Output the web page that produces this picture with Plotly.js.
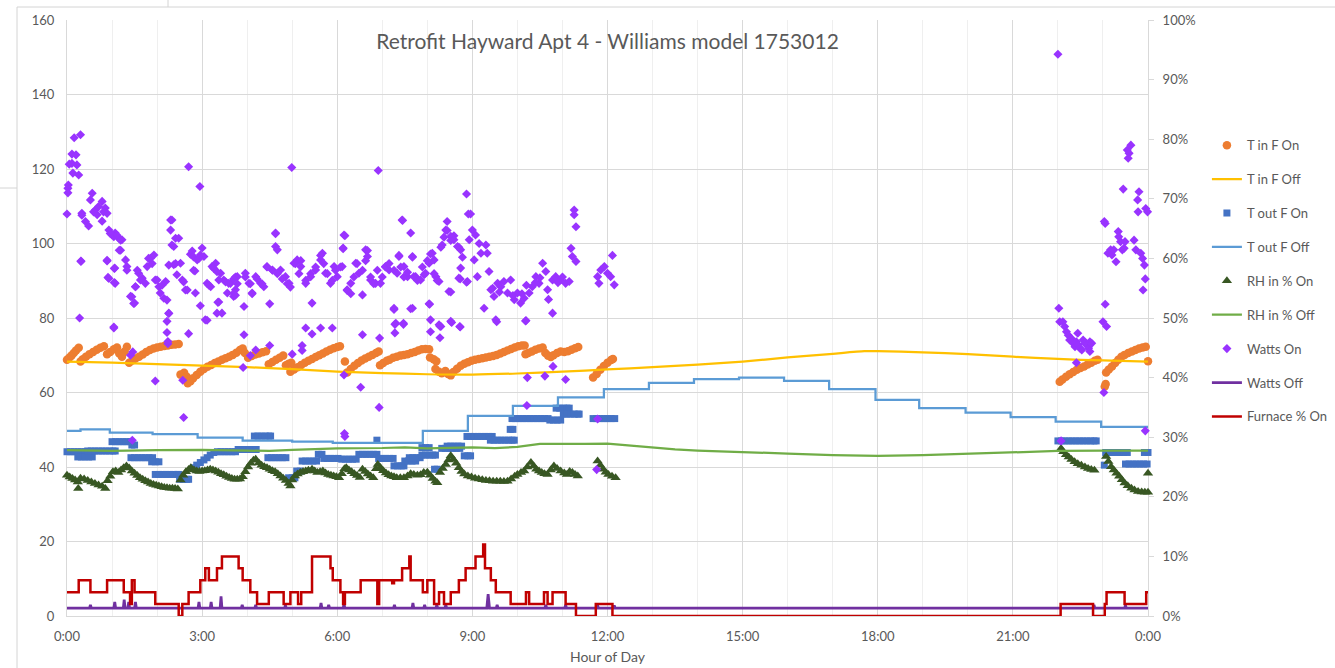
<!DOCTYPE html>
<html>
<head>
<meta charset="utf-8">
<script src="https://cdn.plot.ly/plotly-3.0.1.min.js"></script>
<style>html,body{margin:0;padding:0;background:#fff;}#chart{width:1335px;height:668px;}</style>
</head>
<body>
<div id="chart"></div>
<script>
// ---------- DATA (hour of day, value) ----------
const tickVals = [0,3,6,9,12,15,18,21,24];
const tickText = ["0:00","3:00","6:00","9:00","12:00","15:00","18:00","21:00","0:00"];
const seriesNames = ["T in F On","T in F Off","T out F On","T out F Off","RH in % On","RH in % Off","Watts On","Watts Off","Furnace % On"];

const tInOn = [[0,68.8],[0.05,69.3],[0.1,69.9],[0.15,70.6],[0.2,71.3],[0.26,72.0],
[0.3,68.3],[0.35,68.9],[0.42,69.6],[0.5,70.3],[0.58,70.9],[0.66,71.5],[0.74,72.0],[0.82,72.4],
[0.89,70.3],[0.96,70.9],[1.04,71.6],[1.11,72.1],[1.16,70.5],[1.22,69.6],[1.28,71.0],[1.33,72.3],
[1.38,68.0],[1.45,68.6],[1.52,69.1],[1.6,69.6],[1.68,70.2],[1.76,70.9],[1.84,71.4],[1.92,71.8],[2.0,72.1],[2.08,72.3],[2.16,72.5],[2.24,72.6],[2.32,72.8],[2.4,72.9],[2.48,73.0],
[2.52,64.8],[2.6,65.3],[2.66,64.2],
[2.68,62.5],[2.74,63.0],[2.8,63.8],[2.88,64.7],[2.96,65.6],[3.04,66.3],[3.12,66.9],[3.2,67.4],[3.28,67.9],[3.36,68.3],[3.44,68.8],[3.52,69.2],[3.6,69.6],[3.68,70.1],[3.76,70.7],[3.84,71.4],[3.9,71.8],
[3.95,70.6],[4.02,69.3],[4.1,69.8],[4.18,70.2],[4.26,70.5],[4.34,70.8],[4.42,71.1],
[4.48,67.6],[4.56,68.2],[4.64,68.8],[4.72,69.3],[4.8,69.9],[4.86,67.3],[4.92,67.7],[4.98,68.0],
[4.96,65.6],[5.04,66.2],[5.12,66.8],[5.2,67.4],[5.28,68.0],[5.36,68.5],[5.44,69.0],[5.52,69.5],[5.6,70.0],[5.68,70.5],[5.76,71.0],[5.84,71.5],[5.92,71.9],[6.0,72.2],[6.06,72.4],
[6.17,68.3],
[6.22,65.4],[6.3,66.3],[6.38,67.2],[6.46,67.9],[6.54,68.6],[6.62,69.1],[6.7,69.6],[6.78,70.1],[6.86,70.6],[6.92,71.0],
[6.95,67.3],[7.02,67.9],[7.1,68.5],
[7.16,68.8],[7.24,69.3],[7.32,69.6],[7.4,69.9],[7.48,70.1],[7.56,70.3],[7.64,70.6],[7.72,70.9],[7.8,71.3],[7.88,71.6],[7.96,71.7],[8.04,71.6],
[8.06,69.4],[8.14,68.9],[8.2,68.4],
[8.18,66.3],[8.26,65.6],[8.32,65.2],[8.4,65.8],[8.46,65.0],[8.52,64.6],
[8.58,65.5],[8.66,66.4],[8.74,67.2],[8.82,67.7],[8.9,68.1],[8.98,68.5],[9.06,68.8],[9.14,69.0],[9.22,69.2],[9.3,69.4],[9.38,69.6],[9.46,69.8],[9.54,70.1],[9.62,70.5],[9.7,70.9],[9.78,71.3],[9.86,71.7],[9.94,72.1],[10.02,72.4],[10.1,72.6],[10.16,72.6],
[10.18,70.3],[10.24,70.6],[10.32,71.0],[10.4,71.5],[10.48,71.8],[10.56,72.1],
[10.62,70.6],[10.68,69.9],[10.74,69.5],
[10.8,70.0],[10.88,70.6],[10.96,71.0],[11.04,70.9],[11.12,71.1],[11.2,71.5],[11.28,71.9],[11.35,72.2],
[11.68,64.0],[11.76,65.0],[11.84,66.1],[11.92,67.1],[12.0,68.0],[12.08,68.7],[12.12,69.0],
[22.04,62.9],[22.1,63.5],[22.18,64.2],[22.26,64.9],[22.34,65.5],[22.42,66.1],[22.5,66.6],[22.58,67.0],[22.66,67.5],[22.74,68.0],[22.82,68.5],[22.88,68.8],
[23.04,61.6],[23.06,62.3],
[23.07,65.4],[23.13,66.2],[23.2,67.0],[23.27,67.9],[23.34,68.8],[23.41,69.6],[23.48,70.1],[23.56,70.6],[23.64,71.0],[23.72,71.4],[23.8,71.8],[23.88,72.1],[23.95,72.3],
[24.0,68.4]];

const tInOff = [[0,68.3],[1,68.0],[2,67.6],[3,67.2],[4,66.8],[5,66.3],[6,65.6],[7,65.2],[8,64.9],[9,64.8],[10,65.1],[11,65.6],[12,66.2],[13,66.8],[14,67.5],[15,68.3],[16,69.4],[17,70.4],[17.7,71.1],[18,71.1],[19,70.8],[20,70.3],[21,69.6],[22,69.0],[23,68.6],[24,68.3]];

const tOutOn = [
[0,44.1],[0.08,44.1],[0.16,44.1],[0.24,44.1],[0.32,44.1],[0.4,44.1],
[0.24,42.7],[0.32,42.7],[0.4,42.7],[0.48,42.7],[0.56,42.7],
[0.46,44.3],[0.54,44.3],[0.62,44.3],[0.7,44.3],[0.78,44.3],[0.86,44.3],[0.94,44.3],[1.02,44.3],[1.07,44.3],
[1.0,46.8],[1.08,46.8],[1.16,46.8],[1.24,46.8],[1.32,46.8],[1.4,46.8],
[1.44,45.9],[1.5,45.9],
[1.42,42.5],[1.5,42.5],[1.58,42.5],[1.66,42.5],[1.74,42.5],[1.82,42.5],[1.9,42.5],
[1.88,41.4],[1.96,41.4],[2.04,41.4],
[1.96,38.0],[2.04,38.0],[2.12,38.0],[2.2,38.0],[2.28,38.0],[2.36,38.0],[2.44,38.0],[2.48,38.0],
[2.5,36.7],[2.58,36.7],[2.66,36.7],[2.7,36.7],
[2.81,39.8],[2.88,40.5],[2.96,41.2],[3.04,41.9],[3.11,42.5],[3.18,43.2],[3.26,43.9],
[3.34,44.1],[3.42,44.1],[3.5,44.1],[3.58,44.1],[3.66,44.1],[3.74,44.1],
[3.8,44.7],[3.88,44.7],[3.96,44.7],[4.04,44.7],[4.12,44.7],[4.2,44.7],
[4.16,48.3],[4.24,48.3],[4.32,48.3],[4.4,48.3],[4.48,48.3],[4.52,48.3],
[4.46,42.5],[4.54,42.5],[4.62,42.5],[4.7,42.5],[4.78,42.5],[4.86,42.5],
[4.92,37.1],[5.0,37.1],[5.06,37.1],
[5.1,38.9],[5.18,38.9],
[5.22,41.6],[5.3,41.6],[5.38,41.6],[5.46,41.6],[5.54,41.6],
[5.58,43.4],[5.66,43.4],
[5.7,42.3],[5.78,42.3],[5.86,42.3],[5.94,42.3],[6.02,42.3],
[6.1,42.1],[6.18,42.1],[6.26,42.1],[6.34,42.1],[6.42,42.1],
[6.48,43.4],[6.56,43.4],[6.64,43.4],[6.72,43.4],[6.8,43.4],[6.88,43.4],
[6.88,47.2],
[6.92,42.3],[7.0,42.3],[7.08,42.3],[7.16,42.3],[7.24,42.3],
[7.26,40.3],[7.34,40.3],[7.42,40.3],[7.48,40.3],
[7.5,41.6],[7.58,41.6],[7.66,41.6],[7.74,41.6],
[7.6,42.5],[7.68,42.5],[7.76,42.5],[7.84,42.5],
[7.88,45.2],[7.96,45.2],[8.04,45.2],
[7.88,43.2],[7.96,43.2],[8.04,43.2],[8.12,43.2],[8.18,43.2],
[8.16,39.4],[8.22,39.4],
[8.32,45.0],[8.4,45.0],[8.48,45.0],[8.56,45.0],[8.64,45.0],[8.72,45.0],
[8.44,45.6],[8.52,45.6],[8.6,45.6],[8.68,45.6],[8.76,45.6],
[8.82,43.0],[8.9,43.0],[8.96,43.0],
[8.88,48.2],[8.96,48.2],[9.04,48.2],[9.12,48.2],[9.2,48.2],[9.28,48.2],[9.36,48.2],[9.44,48.2],
[9.4,47.2],[9.48,47.2],[9.56,47.2],[9.64,47.2],[9.72,47.2],[9.8,47.2],[9.88,47.2],[9.93,47.2],
[9.84,50.1],[9.9,50.1],
[9.88,53.0],[9.96,53.0],[10.04,53.0],[10.12,53.0],[10.2,53.0],[10.28,53.0],[10.36,53.0],[10.44,53.0],[10.52,53.0],[10.6,53.0],[10.68,53.0],
[10.72,52.6],[10.8,52.6],[10.88,52.6],[10.96,52.6],
[10.86,55.8],[10.94,55.8],[11.02,55.8],[11.1,55.8],[11.15,55.8],
[11.02,54.2],[11.1,54.2],[11.18,54.2],[11.26,54.2],[11.34,54.2],[11.37,54.2],
[11.68,53.0],[11.76,53.0],[11.84,53.0],[11.92,53.0],[12.0,53.0],[12.08,53.0],[12.16,53.0],
[22.0,47.0],[22.08,47.0],[22.16,47.0],[22.24,47.0],[22.32,47.0],[22.4,47.0],[22.48,47.0],[22.56,47.0],[22.64,47.0],[22.72,47.0],[22.8,47.0],[22.85,47.0],
[23.06,43.9],[23.14,43.9],[23.22,43.9],[23.3,43.9],[23.38,43.9],[23.46,43.9],[23.54,43.9],
[23.03,40.5],
[23.5,40.8],[23.58,40.8],[23.66,40.8],[23.74,40.8],[23.82,40.8],[23.9,40.8],[23.98,40.8],
[23.92,43.9],[24.0,43.9]];

const tOutOff = [[0,49.7],[0.3,50.1],[0.95,49.2],[1.9,48.8],[2.9,47.9],[3.9,47.1],[5.0,46.8],[5.9,46.5],[7.9,49.7],[8.9,53.7],[9.9,56.4],[10.9,58.7],[11.92,60.9],[12.92,62.6],[13.92,63.6],[14.92,64.0],[15.92,63.1],[16.92,60.9],[17.95,58.0],[18.92,55.8],[19.95,54.6],[20.95,53.4],[21.95,52.2],[22.96,50.8],[24,50.7]];

const rhOn = [[0,37.8],[0.06,37.3],[0.12,36.9],[0.18,36.5],[0.24,36.0],[0.25,34.2],[0.3,37.0],[0.38,36.8],[0.46,36.4],[0.54,36.0],[0.62,35.6],[0.7,35.2],[0.78,34.8],[0.85,34.2],
[0.9,36.3],[0.96,37.5],[1.02,38.7],[1.08,38.9],[1.14,38.5],[1.2,39.2],[1.26,39.8],[1.32,40.3],[1.38,39.7],[1.44,38.9],[1.5,38.3],[1.56,37.7],[1.62,37.1],[1.68,36.7],[1.74,36.3],[1.8,36.0],[1.86,35.6],[1.92,35.3],[1.98,35.1],[2.04,34.9],[2.1,34.7],[2.16,34.5],[2.22,34.4],[2.28,34.3],[2.34,34.3],[2.4,34.2],[2.46,34.1],
[2.52,36.5],[2.58,37.8],[2.64,38.7],[2.7,39.3],[2.75,39.8],[2.82,39.2],[2.88,38.9],[2.94,38.8],[3.0,38.9],[3.06,39.0],[3.12,39.2],[3.18,39.4],[3.24,39.2],[3.3,38.9],[3.36,38.6],[3.42,38.2],[3.48,37.9],[3.54,37.5],[3.6,37.2],[3.66,36.9],[3.72,36.7],[3.78,36.7],[3.84,36.8],[3.9,37.4],
[3.96,38.7],[4.02,40.0],[4.08,41.0],[4.14,41.8],[4.19,42.1],[4.26,41.1],[4.32,40.5],[4.38,40.1],[4.44,39.8],[4.5,39.4],[4.56,39.0],[4.62,38.7],[4.68,38.2],[4.74,37.6],[4.8,37.0],[4.86,36.4],[4.92,35.6],[4.96,34.9],
[5.0,36.5],[5.06,37.6],[5.12,38.1],[5.18,38.5],[5.24,38.7],[5.3,38.9],[5.36,39.1],[5.44,39.4],[5.5,38.9],[5.56,38.5],[5.62,38.7],[5.68,38.9],[5.74,38.4],[5.8,38.0],[5.86,37.8],[5.92,37.6],[5.98,37.4],[6.04,37.1],
[6.1,38.2],[6.16,39.5],[6.2,39.8],[6.26,39.2],[6.32,38.7],[6.38,38.2],[6.44,37.7],[6.5,37.2],[6.56,39.4],[6.62,38.8],[6.68,38.1],[6.74,37.6],[6.8,37.1],[6.86,39.5],[6.9,40.7],[6.96,39.8],[7.02,39.0],[7.08,38.4],[7.14,37.9],[7.2,37.6],[7.26,37.4],[7.32,37.1],[7.4,37.1],[7.48,37.1],[7.56,37.6],[7.63,38.2],[7.7,38.0],[7.78,37.8],[7.85,37.9],[7.92,38.5],[8.0,38.6],
[8.06,37.8],[8.12,36.9],[8.18,36.2],[8.22,35.8],[8.28,38.5],[8.34,39.6],[8.41,40.7],[8.47,41.9],[8.52,43.0],[8.58,42.0],[8.64,41.0],[8.7,39.8],[8.76,38.8],[8.82,38.1],[8.9,37.6],[8.98,37.3],[9.06,37.0],[9.14,36.8],[9.22,36.6],[9.3,36.4],[9.38,36.3],[9.46,36.2],[9.54,36.2],[9.62,36.2],[9.7,36.1],[9.78,36.2],[9.86,36.8],[9.94,37.5],
[10.0,38.0],[10.08,38.5],[10.15,38.9],[10.22,40.0],[10.3,41.2],[10.36,40.3],[10.42,39.4],[10.48,38.9],[10.54,38.5],[10.6,38.2],[10.67,38.0],[10.74,39.2],[10.81,40.3],[10.88,39.6],[10.96,38.9],[11.04,38.4],[11.1,38.0],[11.16,38.8],[11.22,38.5],[11.28,38.0],[11.34,37.6],
[11.78,41.6],[11.84,40.5],[11.9,39.4],[11.96,38.6],[12.02,38.0],[12.1,37.5],[12.18,37.1],
[22.07,45.0],[22.12,44.1],[22.18,43.3],[22.24,42.7],[22.3,42.0],[22.37,41.4],[22.44,40.9],[22.52,40.5],[22.6,40.0],[22.67,39.6],[22.74,39.3],[22.81,39.1],
[23.07,42.8],[23.12,41.5],[23.18,40.1],[23.24,39.2],[23.3,38.3],[23.36,37.5],[23.42,36.6],[23.48,35.7],[23.55,35.0],[23.63,34.3],[23.7,33.8],[23.78,33.4],[23.86,33.3],[23.93,33.2],[24.0,33.2],[24.0,38.3]];

const rhOff = [[0,44.5],[1,44.3],[2,44.5],[3,44.6],[4,44.4],[4.5,44.3],[5,44.6],[6,45.0],[7,45.1],[7.5,45.3],[8,45.0],[8.5,45.2],[9,45.3],[9.5,45.1],[10,45.4],[10.5,46.2],[11,46.1],[11.5,46.2],[12,46.3],[12.5,45.8],[13,45.2],[13.5,44.7],[14,44.4],[15,43.9],[16,43.6],[17,43.2],[18,43.0],[19,43.2],[20,43.6],[21,44.0],[22,44.3],[23,44.4],[24,44.4]];

const wattsOn = [[0,107.9],[0.02,114.8],[0.02,113.6],[0.03,115.7],[0.05,121.3],[0.11,121.5],[0.16,128.4],[0.3,129.2],[0.11,124],[0.2,123.8],[0.13,118.9],[0.26,118.4],[0.22,121.1],[0.31,95.2],[0.28,80],[0.33,108.1],[0.41,105.9],[0.48,104.7],[0.52,111.7],[0.56,113.5],[0.63,109],[0.7,109.9],[0.78,111.3],[0.85,109.5],[0.89,108.1],[0.78,106],[0.67,107.7],[0.93,103.6],[1.0,102.3],[1.07,102.8],[1.15,101.4],[1.22,101],[1.04,77.3],[0.89,95.3],[0.91,90.9],[1.06,93.4],[1.07,89.3],[1.16,98.2],[1.3,95.6],[1.33,93.8],[1.41,85.8],[1.5,84],[1.52,88.4],[1.59,92],[1.67,90.7],[1.74,89.3],[1.78,93.8],[1.85,96],[1.93,96.9],[1.89,94.6],[1.96,90.2],[2.04,88.4],[2.07,86.7],[2.15,85.3],[2.19,89.8],[2.26,81.3],[2.22,79.1],[2.3,106.3],[2.3,103.6],[2.37,99.2],[2.37,94.3],[2.41,101.4],[2.48,101.4],[2.44,91.6],[2.52,94.7],[2.56,90.2],[2.63,87.5],[2.7,120.6],[2.74,97.1],[2.78,98],[2.85,86.7],[2.84,92.6],[2.89,95.6],[2.95,115.3],[2.96,83.3],[3.0,98.8],[3.04,96.5],[3.07,79.5],[3.11,89.3],[3.19,88.4],[3.22,93.8],[3.3,94.7],[3.35,84.2],[3.33,81.3],[3.44,81.3],[3.41,92],[3.48,90.2],[3.56,86.7],[3.63,89.3],[3.7,85.8],[3.74,87.6],[3.78,91.1],[3.93,83.1],[3.96,92],[4.04,89.3],[4.11,86.7],[4.19,91.1],[4.3,89.3],[4.37,88.4],[4.44,93.8],[4.5,83.8],[4.56,92.9],[4.63,102.8],[4.63,99.2],[4.67,98.3],[4.74,92.9],[4.85,91.1],[4.93,89.3],[4.99,120.4],[5.04,94.7],[5.11,95.6],[5.19,93.8],[5.3,89.3],[5.3,77.3],[5.41,91.1],[5.44,84],[5.52,92.9],[5.63,95.6],[5.67,97.4],[5.63,77.3],[5.74,92],[5.85,89.3],[5.89,77.3],[5.93,93.8],[6.0,91.1],[6.11,93.8],[6.15,102.3],[6.13,98.8],[6.22,87.6],[6.3,89.3],[6.41,94.7],[6.48,92],[6.56,86.2],[6.63,98.3],[6.67,96.5],[6.74,90.2],[6.85,89.3],[6.91,119.6],[6.96,89.3],[7.07,93.8],[7.15,92.9],[7.26,82.6],[7.3,78.6],[7.33,92],[7.37,96.5],[7.44,106.3],[7.48,93.8],[7.56,91.1],[7.63,102.8],[7.67,96.5],[7.67,82.6],[7.74,91.1],[7.85,90.2],[7.93,91.6],[8.04,94.7],[8.04,83.8],[8.07,79.5],[8.11,97.4],[8.15,95.6],[8.19,91.1],[8.26,89.8],[8.3,77.7],[8.33,99.6],[8.41,103.6],[8.44,105.9],[8.48,87.1],
[0.33,107.6],[0.59,108.5],[0.81,108.5],[0.96,102.7],[1.04,101.8],[1.11,102.2],[1.19,100.9],[1.19,98.2],[1.33,92.8],[1.56,92.8],[1.63,90.2],[1.52,88.4],[1.81,96],[2.0,90.2],[2.11,88.8],[2.22,84.8],[2.26,94.2],[2.33,99.6],[2.33,106.3],[2.41,94.6],[2.59,89.7],[2.67,87.5],[2.81,96.4],[2.96,96.9],[2.81,92.8],[2.93,96],[3.15,88.8],[3.26,93.3],[3.33,92.4],[3.37,90.2],[3.52,89.7],[3.59,89.3],[3.7,86.6],[3.74,91],[0.31,95.3],[0.89,95.5],[0.93,90.6],[1.05,93.3],[1.05,89.5],[1.44,85.7],[1.48,83.9],[3.11,79.4],[3.37,84.3],[1.04,77.6],
[1.46,70.9],[1.41,70],[1.45,47.2],[1.96,63.1],[2.22,76.1],[2.24,73.1],[2.24,73.7],[2.7,75.8],[2.26,81.2],[2.59,53.3],[2.57,63.3],[3.91,66.7],[4.07,69.9],[4.19,71.4],[3.93,75.5],[4.5,72.6],[5.0,70.3],[5.22,71.3],[5.22,72.6],[5.44,75.7],[6.15,64.7],[6.52,61.4],[6.93,56],[6.56,75.5],[6.94,74.6],[6.16,49],[6.17,48.2],[7.26,82.3],[7.28,78.3],[7.47,78.3],[7.28,76],[7.63,82.5],[8.05,83.7],[8.07,76.3],[8.28,77.8],[8.28,74.7],[8.54,78.8],[8.73,77.6],[9.54,79],[10.18,79.2],[10.22,64],[10.61,64.4],[10.79,67],[11.07,63.5],[10.21,56.5],[11.78,52.9],[11.76,39.3],
[3.7,90.5],[3.78,89.2],[3.74,86.1],[3.96,91],[4.07,89.2],[4.11,86.5],[4.22,90.5],[4.33,89.2],[4.44,93.7],[4.56,92.8],[4.67,91.9],[4.78,90.5],[4.89,89.2],[4.96,88.3],[5.07,94.6],[5.19,95.4],[5.15,91.9],[5.3,90.1],[5.41,91.9],[5.52,93.7],[5.63,96.8],[5.7,94.6],[5.78,91.9],[5.89,90.1],[5.96,92.8],[6.07,93.7],[6.22,87.4],[6.3,86.5],[6.37,91],[6.44,94.6],[6.56,92.8],[6.63,95.4],[6.67,98.1],[6.74,91],[6.81,89.2],[6.89,92.8],[7.0,91],[7.07,93.7],[7.15,94.6],[7.26,92.8],[7.37,96.8],[7.41,93.7],[7.48,91],[7.56,92.3],[7.67,96.3],[7.78,90.1],[7.89,93.7],[8.0,95.4],[8.07,97.2],[8.15,91.9],[8.22,90.1],[8.3,99],[8.37,101.7],[8.44,103.5],[8.52,100.8],[8.59,102.1],[8.7,99],[8.78,96.3],[8.91,107.9],[7.45,106.2],[6.17,102.1],[6.13,98.6],[4.63,102.6],[8.52,87],[8.73,90.5],[8.87,89.6],
[7.7,91.1],[7.96,92],[8.26,78.2],[8.52,79.1],[8.72,77.7],[7.47,78.6],[8.52,101.9],[8.59,101],[8.67,99.2],[8.74,98.3],[8.87,113.3],[8.96,107.9],[9.0,103.6],[8.93,101],[9.07,102.3],[9.15,100],[9.19,97.4],[9.04,95.6],[9.3,99.6],[9.33,97.4],[8.74,93.4],[8.89,89.8],[8.7,90.7],[9.37,92.5],[9.26,82.6],[9.11,91.1],[9.41,87.6],[9.48,85.8],[9.56,89.3],[9.63,88.4],[9.7,89.8],[9.78,86.7],[9.85,90.2],[9.52,79.5],[9.93,84.9],[10.0,86.7],[10.07,84],[10.15,85.3],[10.19,79.3],[10.26,86.7],[10.33,88.4],[10.41,91.1],[10.48,89.3],[10.56,94.7],[10.63,92.5],[10.67,87.6],[10.69,85],[10.78,81.3],[10.78,90.2],[10.85,91.1],[10.96,90.2],[11.07,89.3],[11.15,89.8],[11.19,98.7],[11.26,109],[11.26,107.7],[11.3,104.5],[11.22,96.5],[11.3,95.2],[11.78,91.1],[11.85,92.9],[11.93,93.8],[12.0,92],[12.07,91.1],[12.11,96.8],[12.15,88.9],[11.81,89.3],[9.45,88],[9.6,87],[9.9,86],[10.1,86.5],[10.4,89.5],[10.9,89.5],[11.0,91],[10.5,90.8],[10.2,88.8],
[22.0,150.8],[22.02,82.6],[22.04,79],[22.11,79],[22.15,77.7],[22.19,76.3],[22.23,75.4],[22.26,74.1],[22.3,74.5],[22.34,73.2],[22.38,72.3],[22.41,73.6],[22.45,72.8],[22.49,71.9],[22.53,71.4],[22.56,74.1],[22.6,73.2],[22.64,72.8],[22.68,71.9],[22.71,71],[22.71,73.6],[22.75,73.2],[22.41,68],[22.44,75.9],[22.07,47],[23.0,79],[23.08,77.7],[23.05,83.7],[23.02,60],[23.03,105.9],[23.05,105.4],[23.11,97.4],[23.17,98.3],[23.2,96.9],[23.24,98.3],[23.29,95.1],[23.34,103.2],[23.35,101.8],[23.39,100.5],[23.43,98.3],[23.47,98.7],[23.49,100.5],[23.45,114.6],[23.54,125.1],[23.58,124.2],[23.62,126.4],[23.56,122.9],[23.69,100.9],[23.73,98.3],[23.77,111.7],[23.8,113.9],[23.78,108.5],[23.84,97.4],[23.88,96],[23.92,94.2],[23.94,90.5],[23.89,87.5],[23.95,109.4],[23.99,108.5],[23.94,49.7]];

const wattsOff = [[0,2.1],[0.5,2.1],[0.52,3.0],[0.54,2.1],[1.04,2.1],[1.06,3.8],[1.08,2.1],[1.25,2.1],[1.27,4.4],[1.29,2.1],[1.35,2.1],[1.37,3.8],[1.39,2.1],[1.5,2.1],[1.52,3.8],[1.54,2.1],[2.91,2.1],[2.93,3.8],[2.95,2.1],[3.18,2.1],[3.2,3.8],[3.22,2.1],[3.4,2.1],[3.42,5.3],[3.44,2.1],[3.87,2.1],[3.89,3.0],[3.91,2.1],[4.17,2.1],[4.19,3.0],[4.21,2.1],[4.83,2.1],[4.85,2.8],[4.87,2.1],[5.62,2.1],[5.64,3.5],[5.66,2.1],[5.79,2.1],[5.81,3.0],[5.83,2.1],[6.13,2.1],[6.15,3.2],[6.17,2.1],[7.25,2.1],[7.27,3.0],[7.29,2.1],[7.66,2.1],[7.68,3.5],[7.7,2.1],[7.92,2.1],[7.94,3.0],[7.96,2.1],[8.19,2.1],[8.21,3.0],[8.23,2.1],[8.39,2.1],[8.41,3.0],[8.43,2.1],[9.32,2.1],[9.35,5.9],[9.38,2.1],[9.53,2.1],[9.55,3.0],[9.57,2.1],[10.61,2.1],[10.63,3.0],[10.65,2.1],[11.05,2.1],[11.07,3.0],[11.09,2.1],[11.76,2.1],[11.78,2.8],[11.8,2.1],[12.13,2.1],[12.15,2.8],[12.17,2.1],[22.78,2.1],[22.8,3.0],[22.82,2.1],[23.48,2.1],[23.5,2.8],[23.52,2.1],[24,2.1]];

// Furnace % On (right axis, percent), step changes
const furnace = [[0,4],[0.26,6],[0.52,4],[0.89,6],[1.26,4],[1.4,2],[1.44,6],[1.5,4],[1.96,2],[2.48,0],[2.56,2],[2.7,4],[2.96,6],[3.07,8],[3.15,6],[3.33,8],[3.44,10],[3.81,8],[3.9,6],[4.07,4],[4.22,2],[4.48,4],[4.81,2],[4.96,4],[5.13,2],[5.2,4],[5.44,10],[5.85,8],[5.9,6],[6.07,4],[6.13,2],[6.17,4],[6.52,6],[6.89,2],[6.93,6],[7.22,5.5],[7.26,6],[7.44,8],[7.6,10],[7.63,6],[7.9,4],[8.0,6],[8.15,2],[8.26,4],[8.37,2],[8.52,4],[8.7,6],[8.85,8],[9.07,10],[9.24,12],[9.28,8],[9.41,6],[9.52,4],[9.85,2],[10.19,4],[10.26,2],[10.59,4],[10.67,2],[10.78,4],[11.07,2],[11.3,0],[11.74,2],[12.11,0],[22.06,2],[22.78,0],[23.04,2],[23.08,4],[23.48,2],[23.96,4],[24,4]];

// ---------- CHART ----------
const X = a => a.map(p => p[0]);
const Y = a => a.map(p => p[1]);
const FONT = 'Lato, "Open Sans", sans-serif';
const TXT = '#595959';

const traces = [
  {name: seriesNames[0], x: X(tInOn), y: Y(tInOn), mode: 'markers', type: 'scatter', cliponaxis: false,
   marker: {symbol: 'circle', size: 8.5, color: '#ED7D31'}},
  {name: seriesNames[1], x: X(tInOff), y: Y(tInOff), mode: 'lines', type: 'scatter', line: {color: '#FFC000', width: 2.25, shape: 'spline', smoothing: 0.6}},
  {name: seriesNames[2], x: X(tOutOn), y: Y(tOutOn), mode: 'markers', type: 'scatter', cliponaxis: false,
   marker: {symbol: 'square', size: 7, color: '#4472C4'}},
  {name: seriesNames[3], x: X(tOutOff), y: Y(tOutOff), mode: 'lines', type: 'scatter', line: {color: '#5B9BD5', width: 2.25, shape: 'hv'}},
  {name: seriesNames[4], x: X(rhOn), y: Y(rhOn), mode: 'markers', type: 'scatter', cliponaxis: false,
   marker: {symbol: 'triangle-up', size: 9, color: '#385723'}},
  {name: seriesNames[5], x: X(rhOff), y: Y(rhOff), mode: 'lines', type: 'scatter', line: {color: '#70AD47', width: 2.25}},
  {name: seriesNames[6], x: X(wattsOn), y: Y(wattsOn), mode: 'markers', type: 'scatter', cliponaxis: false,
   marker: {symbol: 'diamond', size: 7, color: '#9933FF'}},
  {name: seriesNames[7], x: X(wattsOff), y: Y(wattsOff), mode: 'lines', type: 'scatter', line: {color: '#7030A0', width: 2.75}},
  {name: seriesNames[8], x: X(furnace), y: Y(furnace), yaxis: 'y2', mode: 'lines', type: 'scatter', cliponaxis: false,
   line: {color: '#C00000', width: 2.5, shape: 'hv'}}
];
traces.forEach((t, i) => { t.legendgroup = 'g' + i; });

// spreadsheet cell borders around the chart object (paper coords)
const W = 1081, H = 596, L = 67, B = 616;
const px = v => (v - L) / W, py = v => (B - v) / H;
const border = {type: 'line', xref: 'paper', yref: 'paper', line: {color: '#D4D4D4', width: 1}, layer: 'below'};

const layout = {
  width: 1335, height: 668,
  margin: {l: 67, r: 187, t: 20, b: 52, pad: 0, autoexpand: false},
  paper_bgcolor: '#FFFFFF', plot_bgcolor: '#FFFFFF',
  font: {family: FONT, color: TXT, size: 13},
  title: {text: 'Retrofit Hayward Apt 4 - Williams model 1753012', font: {family: FONT, size: 21, color: TXT},
          x: 0.5, xref: 'paper', y: 1 - 42/668, yref: 'container', yanchor: 'middle'},
  showlegend: true,
  legend: {x: 1.0545, xanchor: 'left', y: 0.815, yanchor: 'top', font: {family: FONT, size: 13, color: TXT},
           tracegroupgap: 14, bgcolor: 'rgba(0,0,0,0)', traceorder: 'grouped', itemwidth: 30},
  xaxis: {range: [0, 24], tickmode: 'array', tickvals: tickVals, ticktext: tickText,
          showgrid: true, gridcolor: '#D9D9D9', gridwidth: 1, zeroline: false, layer: 'below traces',
          showline: true, linecolor: '#D9D9D9', linewidth: 1, ticks: '', ticklabelstandoff: 8,
          tickfont: {family: FONT, size: 13, color: TXT},
          minor: {dtick: 1, tick0: 0, showgrid: true, gridcolor: '#EFEFEF', gridwidth: 1, ticks: ''},
          title: {text: 'Hour of Day', font: {family: FONT, size: 14, color: TXT}, standoff: 9}},
  yaxis: {range: [0, 160], dtick: 20, tick0: 0, showgrid: true, gridcolor: '#D9D9D9', gridwidth: 1, layer: 'below traces',
          zeroline: false, showline: true, linecolor: '#D9D9D9', ticks: '', ticklabelstandoff: 9,
          tickfont: {family: FONT, size: 13, color: TXT}},
  yaxis2: {range: [0, 100], dtick: 10, tick0: 0, overlaying: 'y', side: 'right', showgrid: false, zeroline: false,
           showline: true, linecolor: '#D9D9D9', ticks: 'outside', ticklen: 5, tickcolor: '#D9D9D9', layer: 'below traces',
           ticksuffix: '%', ticklabelstandoff: 6, tickfont: {family: FONT, size: 13, color: TXT}},
  shapes: [
    Object.assign({}, border, {x0: px(17), x1: px(1335), y0: py(7), y1: py(7)}),
    Object.assign({}, border, {x0: px(17), x1: px(17), y0: py(7), y1: py(668)}),
    Object.assign({}, border, {x0: px(168), x1: px(168), y0: py(0), y1: py(7)}),
    Object.assign({}, border, {x0: px(0), x1: px(17), y0: py(188), y1: py(188)})
  ]
};

Plotly.newPlot('chart', traces, layout, {displayModeBar: false, staticPlot: true});
</script>
</body>
</html>
